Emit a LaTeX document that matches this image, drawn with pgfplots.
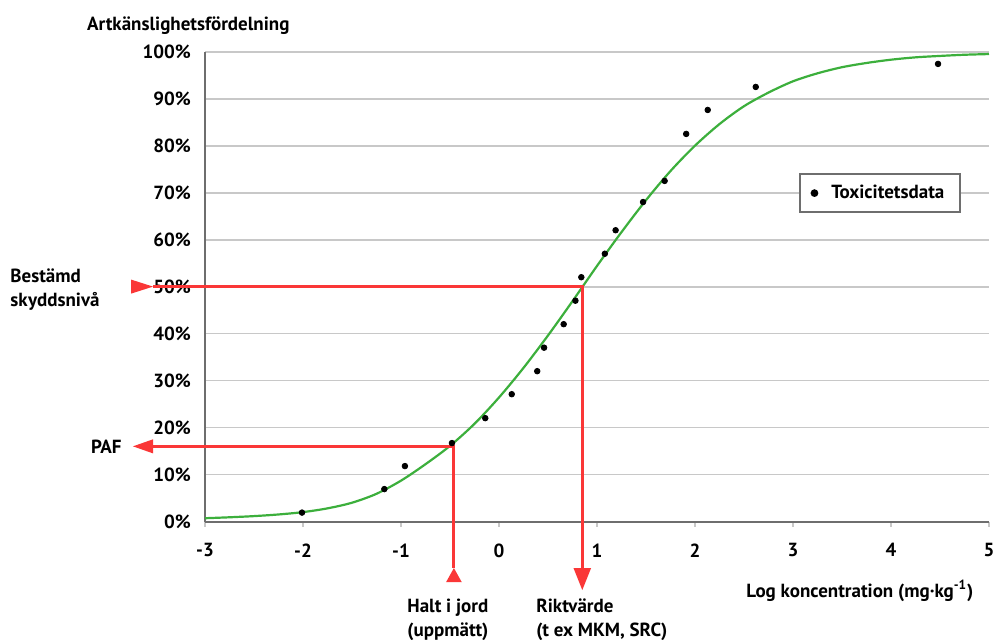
\documentclass[border=0pt]{standalone}
\usepackage{pgfplots}
\pgfplotsset{compat=1.18}
\usepackage{fontspec}
\setmainfont{PT Sans}
\definecolor{curvegreen}{RGB}{60,175,60}
\definecolor{annred}{RGB}{250,55,55}
\definecolor{gridgray}{RGB}{200,200,200}
\definecolor{axgray}{RGB}{110,110,110}
\newcommand{\lbl}{\fontsize{9.5}{12}\selectfont\bfseries}
\begin{document}
\begin{tikzpicture}[x=1pt,y=1pt,font=\lbl]
\useasboundingbox (-102.5,-58.75) rectangle (394.5,260.75);
\begin{axis}[
 at={(0,0)}, anchor=south west, scale only axis,
 width=392pt, height=234.9pt,
 xmin=-3, xmax=5, ymin=0, ymax=100,
 axis lines*=left,
 axis line style={axgray, line width=1pt},
 xtick={-3,...,5},
 xticklabels={-3,-2,-1,0,1,2,3,4,5},
 ytick={0,10,...,100},
 yticklabels={0\%,10\%,20\%,30\%,40\%,50\%,60\%,70\%,80\%,90\%,100\%},
 ymajorgrids, grid style={gridgray, line width=0.9pt},
 tick align=outside,
 major tick length=2.5pt,
 xtick style={gridgray, line width=0.6pt},
 ytick style={draw=none},
 xticklabel style={yshift=-5pt},
 yticklabel style={xshift=-1pt},
 tick label style={font=\lbl},
 clip=false,
 legend style={at={(0.861,0.699)}, anchor=center, draw=axgray, fill=white, line width=1pt, font=\lbl, inner xsep=6pt, inner ysep=3.5pt},
 legend cell align=left,
]
\addplot[curvegreen, line width=1.1pt, smooth, no marks, forget plot] coordinates {
(-3,0.7) (-2.75,0.9) (-2.5,1.15) (-2.25,1.5) (-2,2.0) (-1.75,2.8) (-1.5,4.0) (-1.25,5.9)
(-1,8.7) (-0.75,12.2) (-0.5,16.1) (-0.25,20.8) (0,26.4) (0.25,32.7) (0.5,39.6) (0.75,46.9)
(1,54.4) (1.25,61.6) (1.5,68.4) (1.75,74.6) (2,80.0) (2.25,84.6) (2.5,88.4) (2.75,91.3)
(3,93.7) (3.25,95.4) (3.5,96.7) (3.75,97.6) (4,98.3) (4.25,98.8) (4.5,99.1) (4.75,99.35) (5,99.5)
};
\draw[annred, line width=1.5pt] (axis cs:-3.53,50) -- (axis cs:0.85,50) -- (axis cs:0.85,-10);
\fill[annred] (axis cs:-3.53,50) -- (axis cs:-3.755,51.5) -- (axis cs:-3.755,48.5) -- cycle;
\fill[annred] (axis cs:0.85,-14.6) -- (axis cs:0.76,-9.9) -- (axis cs:0.94,-9.9) -- cycle;
\draw[annred, line width=1.5pt] (axis cs:-3.53,16) -- (axis cs:-0.46,16) -- (axis cs:-0.46,-10);
\fill[annred] (axis cs:-3.735,16) -- (axis cs:-3.53,17.5) -- (axis cs:-3.53,14.5) -- cycle;
\fill[annred] (axis cs:-0.46,-9.9) -- (axis cs:-0.54,-12.9) -- (axis cs:-0.38,-12.9) -- cycle;
\addplot[only marks, mark=*, mark size=1.4pt, black] coordinates {
(-2.01,1.9) (-1.17,6.9) (-0.96,11.8) (-0.48,16.7) (-0.14,22.0) (0.13,27.1) (0.39,32.0) (0.46,37.0)
(0.66,42.0) (0.78,47.0) (0.84,52.0) (1.08,57.0) (1.19,62.0) (1.47,68.0) (1.69,72.5) (1.91,82.5)
(2.13,87.6) (2.62,92.5) (4.48,97.4)
};
\addlegendentry{\hspace{5pt}Toxicitetsdata}
\end{axis}
\node[anchor=west] at (-62.5,247.75) {Artkänslighetsfördelning};
\node[anchor=west, align=left, inner sep=0pt] at (-97.5,115.75) {Bestämd\\skyddsnivå};
\node[anchor=east, inner sep=0pt] at (-41.5,37.25) {PAF};
\node[anchor=west, align=left, inner sep=0pt] at (101,-49) {Halt i jord\\(uppmätt)};
\node[anchor=west, align=left, inner sep=0pt] at (165.5,-49) {Riktvärde\\(t ex MKM, SRC)};
\node[anchor=west, inner sep=0pt] at (270.5,-34.75) {Log koncentration (mg·kg\textsuperscript{-1})};
\end{tikzpicture}
\end{document}
